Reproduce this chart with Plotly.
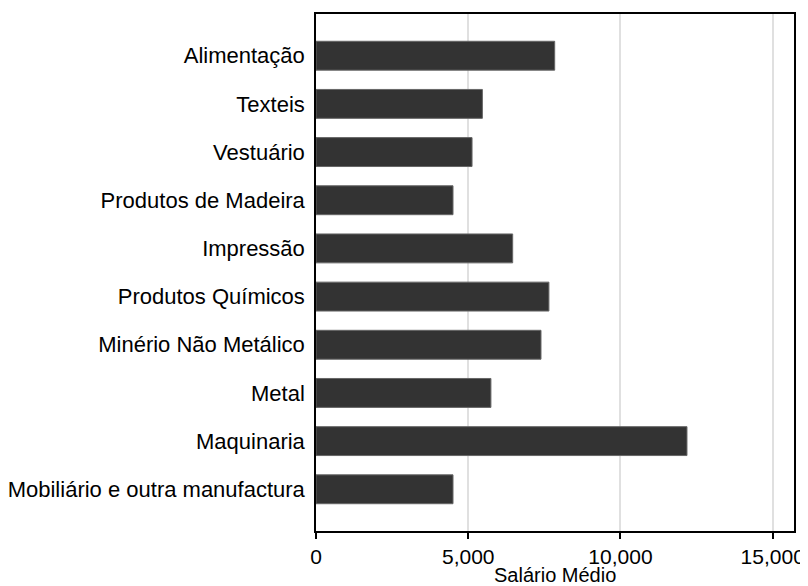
import plotly.graph_objects as go

categories = ["Alimentação", "Texteis", "Vestuário", "Produtos de Madeira", "Impressão",
              "Produtos Químicos", "Minério Não Metálico", "Metal", "Maquinaria",
              "Mobiliário e outra manufactura"]
salario = [7840, 5465, 5125, 4500, 6460, 7650, 7390, 5745, 12185, 4500]
x_title = "Salário Médio"

fig = go.Figure(go.Bar(
    x=salario, y=categories, orientation="h",
    marker=dict(color="#333333", line=dict(color="#666666", width=1)),
    width=0.6,
))

font = dict(family="Liberation Sans, Arial, sans-serif", size=22, color="black")
fig.update_layout(
    width=801, height=579,
    margin=dict(l=308, r=15, t=6, b=56, autoexpand=False),
    plot_bgcolor="white", paper_bgcolor="white",
    font=font, showlegend=False,
    bargap=0.4,
)
fig.update_xaxes(
    range=[0, 15700], tickvals=[0, 5000, 10000, 15000], tickformat=",",
    tickfont=dict(size=21),
    showgrid=True, gridcolor="#e0e0e0", gridwidth=2,
    showline=True, linecolor="black", linewidth=1.5, mirror=True,
    ticks="outside", ticklen=6, tickcolor="black", tickwidth=1.5,
    zeroline=False, automargin=False,
)
fig.update_yaxes(
    categoryorder="array", categoryarray=categories,
    autorange=False, range=[9.866, -0.866],
    showgrid=False, showline=True, linecolor="black", linewidth=1.5, mirror=True,
    ticks="", ticklabelstandoff=5, automargin=False,
)
fig.add_annotation(
    text=x_title, xref="paper", yref="paper", x=0.5, y=0,
    xanchor="center", yanchor="top", yshift=-31, showarrow=False,
    font=dict(family=font["family"], size=20, color="black"),
)
fig.write_html("out.html")
